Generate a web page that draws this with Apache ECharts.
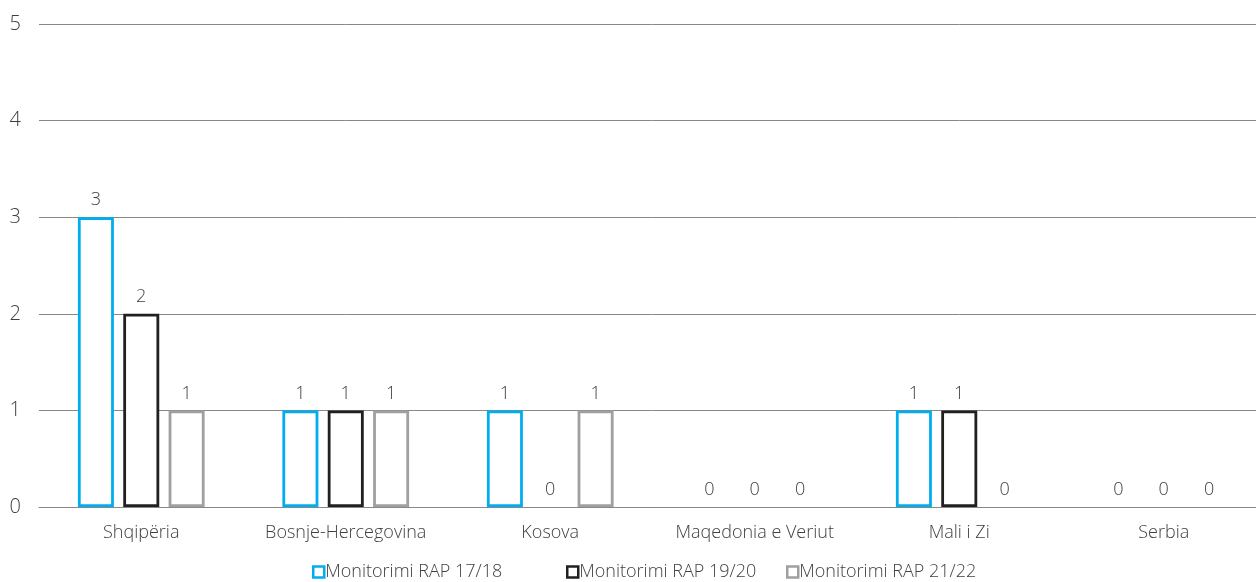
<!DOCTYPE html>
<html><head><meta charset="utf-8">
<script src="https://cdn.jsdelivr.net/npm/echarts@6/dist/echarts.min.js"></script>
<style>html,body{margin:0;padding:0;background:#fff;overflow:hidden}#c{width:1266px;height:582px}</style>
</head><body><div id="c"></div>
<script>
const categories = ["Shqipëria","Bosnje-Hercegovina","Kosova","Maqedonia e Veriut","Mali i Zi","Serbia"];
const seriesNames = ["Monitorimi RAP 17/18","Monitorimi RAP 19/20","Monitorimi RAP 21/22"];
const rap1718 = [3,1,1,0,1,0];
const rap1920 = [2,1,0,0,1,0];
const rap2122 = [1,1,1,0,0,0];
const yTicks = [0,1,2,3,4,5];

const colors = ["#00AEEF","#231F20","#A0A0A0"];
const font = "'Open Sans', 'Noto Sans', sans-serif";
const data = [rap1718, rap1920, rap2122];
const chart = echarts.init(document.getElementById('c'));
const legendLefts = [307, 561, 781];
const txt = {color:'#404040',fontFamily:font,fontWeight:300};
chart.setOption({
  animation:false,
  textStyle:{fontFamily:font},
  grid:{left:39,right:0,top:24,bottom:75},
  legend: seriesNames.map((n,i)=>({
    data:[n], left:legendLefts[i], top:558, icon:'rect', itemWidth:11, itemHeight:11, itemGap:0,
    textStyle:Object.assign({fontSize:18,padding:[0,0,0,-4]},txt),
    itemStyle:{borderWidth:2.5}
  })),
  xAxis:{type:'category',data:categories,axisTick:{show:false},
    axisLine:{show:true,lineStyle:{color:'#888',width:1}},
    axisLabel:Object.assign({fontSize:18,margin:17,interval:0},txt)},
  yAxis:{type:'value',min:yTicks[0],max:yTicks[yTicks.length-1],interval:1,
    axisLabel:Object.assign({fontSize:20,margin:18},txt),
    splitLine:{lineStyle:{color:'#888',width:1}}},
  series: seriesNames.map((n,i)=>({
    name:n,type:'bar',barWidth:36,barGap:'26%',
    data:data[i].map(v=>v===0?{value:v,itemStyle:{borderWidth:0,color:'rgba(0,0,0,0)'}}:v),
    itemStyle:{color:'#fff',borderColor:colors[i],borderWidth:2.8},
    label:Object.assign({show:true,position:'top',distance:8,fontSize:18},txt)
  }))
});
</script></body></html>
